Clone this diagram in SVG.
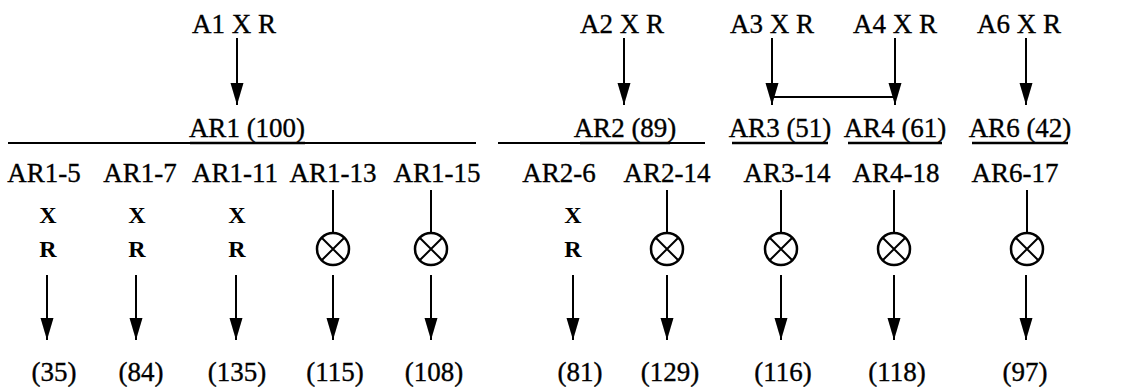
<svg xmlns="http://www.w3.org/2000/svg" width="1132" height="389" viewBox="0 0 1132 389">
<style>
text{font-family:"Liberation Serif","Times New Roman",serif;font-size:27px;fill:#000;stroke:#000;stroke-width:0.35;text-anchor:middle}
.xr{font-weight:bold;font-size:24px;stroke-width:0}
.ln{stroke:#000;stroke-width:2;fill:none}
.ul{stroke:#000;stroke-width:2.5;fill:none}
.ar{stroke:#000;stroke-width:2;fill:none;marker-end:url(#ah)}
.cir{stroke:#000;stroke-width:2.5;fill:#fff}
</style>
<defs>
<marker id="ah" markerUnits="userSpaceOnUse" viewBox="0 -7 22 14" refX="22" refY="0" markerWidth="22" markerHeight="14" orient="auto">
<path d="M0,-6.5 L22,0 L0,6.5 z" fill="#000"/>
</marker>
<g id="otimes"><circle class="cir" r="16"/><path class="ln" d="M-11.3,-11.3 L11.3,11.3 M-11.3,11.3 L11.3,-11.3"/></g>
</defs>
<rect width="1132" height="389" fill="#fff"/>

<g id="sources">
<g id="A1"><text x="234" y="33">A1 X R</text></g>
<g id="A2"><text x="622" y="33">A2 X R</text></g>
<g id="A3"><text x="772" y="33">A3 X R</text></g>
<g id="A4"><text x="895" y="33">A4 X R</text></g>
<g id="A6"><text x="1019" y="33">A6 X R</text></g>
</g>

<g id="groups">
<g id="AR1"><text x="247" y="137">AR1 (100)</text><line class="ln" x1="8" y1="143" x2="476" y2="143"/><line class="ul" x1="190" y1="143" x2="305" y2="143"/></g>
<g id="AR2"><text x="625" y="137">AR2 (89)</text><line class="ln" x1="498" y1="143" x2="705" y2="143"/><line class="ul" x1="580" y1="143" x2="670" y2="143"/></g>
<g id="AR3"><text x="780" y="137">AR3 (51)</text><line class="ul" x1="732" y1="143" x2="828" y2="143"/></g>
<g id="AR4"><text x="895" y="137">AR4 (61)</text><line class="ul" x1="848" y1="143" x2="942" y2="143"/></g>
<g id="AR6"><text x="1020" y="137">AR6 (42)</text><line class="ul" x1="972" y1="143" x2="1068" y2="143"/></g>
</g>

<g id="cols">
<g id="AR1-5"><text x="44" y="182">AR1-5</text><text class="xr" x="48" y="223">X</text><text class="xr" x="48" y="257">R</text><text x="54" y="381">(35)</text></g>
<g id="AR1-7"><text x="140" y="182">AR1-7</text><text class="xr" x="137" y="223">X</text><text class="xr" x="137" y="257">R</text><text x="141" y="381">(84)</text></g>
<g id="AR1-11"><text x="235" y="182">AR1-11</text><text class="xr" x="237" y="223">X</text><text class="xr" x="237" y="257">R</text><text x="237" y="381">(135)</text></g>
<g id="AR1-13"><text x="333" y="182">AR1-13</text><use href="#otimes" x="333" y="249"/><text x="335" y="381">(115)</text></g>
<g id="AR1-15"><text x="437" y="182">AR1-15</text><use href="#otimes" x="431" y="249"/><text x="434" y="381">(108)</text></g>
<g id="AR2-6"><text x="559" y="182">AR2-6</text><text class="xr" x="573" y="223">X</text><text class="xr" x="573" y="257">R</text><text x="580" y="381">(81)</text></g>
<g id="AR2-14"><text x="667" y="182">AR2-14</text><use href="#otimes" x="667" y="249"/><text x="670" y="381">(129)</text></g>
<g id="AR3-14"><text x="787" y="182">AR3-14</text><use href="#otimes" x="781" y="249"/><text x="783" y="381">(116)</text></g>
<g id="AR4-18"><text x="896" y="182">AR4-18</text><use href="#otimes" x="894" y="249"/><text x="897" y="381">(118)</text></g>
<g id="AR6-17"><text x="1015" y="182">AR6-17</text><use href="#otimes" x="1027" y="249"/><text x="1025" y="381">(97)</text></g>
</g>

<g id="connectors">
<line class="ar" x1="237" y1="38" x2="237" y2="105"/>
<line class="ar" x1="624" y1="38" x2="624" y2="105"/>
<line class="ar" x1="772" y1="38" x2="772" y2="105"/>
<line class="ar" x1="895" y1="38" x2="895" y2="105"/>
<line class="ln" x1="772" y1="97" x2="895" y2="97"/>
<line class="ar" x1="1026" y1="38" x2="1026" y2="105"/>
<line class="ln" x1="333" y1="190" x2="333" y2="233"/>
<line class="ln" x1="431" y1="190" x2="431" y2="233"/>
<line class="ln" x1="667" y1="190" x2="667" y2="233"/>
<line class="ln" x1="781" y1="190" x2="781" y2="233"/>
<line class="ln" x1="894" y1="190" x2="894" y2="233"/>
<line class="ln" x1="1027" y1="190" x2="1027" y2="233"/>
<line class="ar" x1="47" y1="275" x2="47" y2="340"/>
<line class="ar" x1="136" y1="275" x2="136" y2="340"/>
<line class="ar" x1="236" y1="275" x2="236" y2="340"/>
<line class="ar" x1="333" y1="275" x2="333" y2="340"/>
<line class="ar" x1="431" y1="275" x2="431" y2="340"/>
<line class="ar" x1="573" y1="275" x2="573" y2="340"/>
<line class="ar" x1="667" y1="275" x2="667" y2="340"/>
<line class="ar" x1="781" y1="275" x2="781" y2="340"/>
<line class="ar" x1="894" y1="275" x2="894" y2="340"/>
<line class="ar" x1="1026" y1="275" x2="1026" y2="340"/>
</g>
</svg>
